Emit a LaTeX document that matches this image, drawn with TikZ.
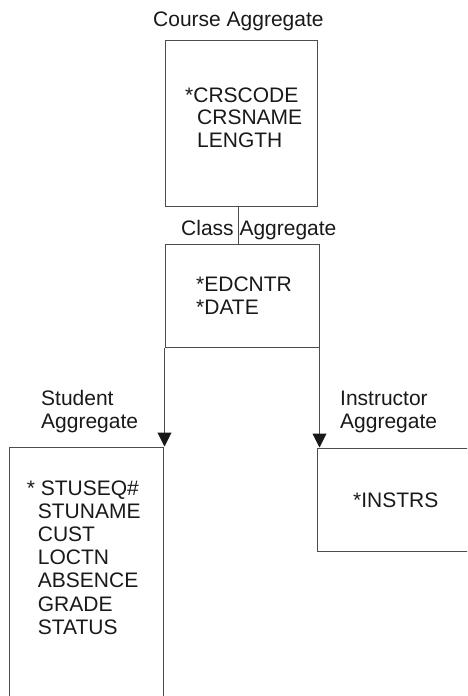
\documentclass[tikz,border=0pt]{standalone}
\usepackage{fontspec}
\setmainfont{Liberation Sans}
\usetikzlibrary{arrows.meta}

\tikzset{
	aggbox/.style={draw=black!70, line width=1pt, inner sep=0pt},
	aggname/.style={anchor=base west, inner sep=0pt, font=\fontsize{21}{23}\selectfont, text=black!90},
	fieldtxt/.style={anchor=base west, inner sep=0pt, font=\fontsize{21}{23}\selectfont, text=black!90},
	link/.style={draw=black!70, line width=1pt},
	flow/.style={link, -{Triangle[length=14pt,width=14pt,color=black!90]}}
}

\begin{document}
\begin{tikzpicture}[x=1pt,y=-1pt]
		\useasboundingbox (0,0) rectangle (467,696);
		\clip (0,0) rectangle (467,696);
		% aggregate boxes
		\node[aggbox, minimum width=152, minimum height=166] (course) at (241,123) {};
		\node[aggbox, minimum width=154, minimum height=103] (class) at (242,295.5) {};
		\node[aggbox, minimum width=154, minimum height=273] (student) at (86,583.5) {};
		\node[aggbox, minimum width=173, minimum height=103] (instr) at (403.5,499.5) {};
		% aggregate names
		\node[aggname] (courselbl) at (153,27) {Course Aggregate};
		\node[aggname] (classlbl) at (181,235) {Class Aggregate};
		\node[aggname] (stulblA) at (41,405) {Student};
		\node[aggname] (stulblB) at (41,428) {Aggregate};
		\node[aggname] (instrlblA) at (340,405) {Instructor};
		\node[aggname] (instrlblB) at (340,428) {Aggregate};
		% fields
		\node[fieldtxt] (crskey) at (185,102) {*CRSCODE};
		\foreach \f [count=\i] in {CRSNAME,LENGTH}
			\node[fieldtxt] (crs\i) at (197,102+22.5*\i) {\f};
		\node[fieldtxt] (clskeyA) at (196,291.7) {*EDCNTR};
		\node[fieldtxt] (clskeyB) at (196,314) {*DATE};
		\node[fieldtxt] (stukey) at (26.7,495) {* STUSEQ\#};
		\foreach \f [count=\i] in {STUNAME,CUST,LOCTN,ABSENCE,GRADE,STATUS}
			\node[fieldtxt] (stu\i) at (37.7,495+23.2*\i) {\f};
		\node[fieldtxt] (instrkey) at (353,507) {*INSTRS};
		% connectors
		\draw[link] ([xshift=-3pt]course.south) -- ([xshift=-4pt]class.north);
		\draw[flow] (class.south west) -- (class.south west |- student.north);
		\draw[flow] (class.south east) -- (class.south east |- instr.north);
	\end{tikzpicture}
\end{document}
